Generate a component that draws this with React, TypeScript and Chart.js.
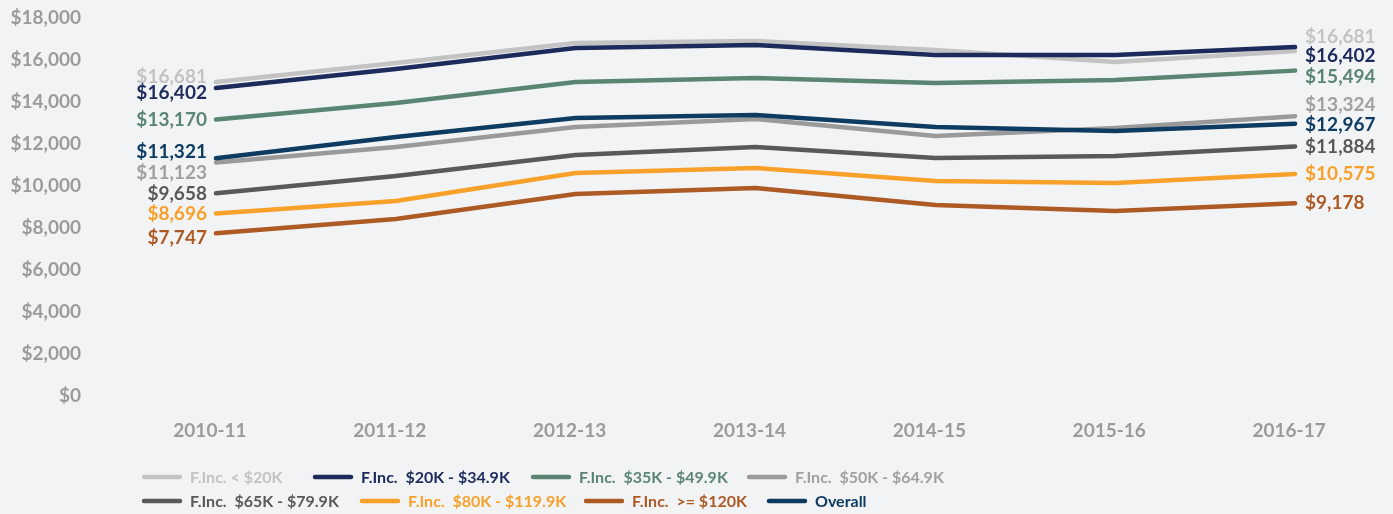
import React, { useEffect, useRef } from "react";
import { Chart, registerables } from "chart.js";

Chart.register(...registerables);

// ---------- data ----------
const categories = ["2010-11", "2011-12", "2012-13", "2013-14", "2014-15", "2015-16", "2016-17"];

const seriesNames = [
  "F.Inc. < $20K",
  "F.Inc.  $20K - $34.9K",
  "F.Inc.  $35K - $49.9K",
  "F.Inc.  $50K - $64.9K",
  "F.Inc.  $65K - $79.9K",
  "F.Inc.  $80K - $119.9K",
  "F.Inc.  >= $120K",
  "Overall",
];

const incUnder20K = [14950, 15860, 16810, 16900, 16480, 15900, 16430];
const inc20to35K = [14670, 15570, 16570, 16710, 16240, 16240, 16620];
const inc35to50K = [13170, 13950, 14950, 15140, 14900, 15050, 15494];
const inc50to65K = [11123, 11860, 12810, 13190, 12380, 12760, 13324];
const inc65to80K = [9658, 10480, 11480, 11860, 11330, 11430, 11884];
const inc80to120K = [8696, 9290, 10620, 10860, 10240, 10140, 10575];
const inc120KPlus = [7747, 8430, 9620, 9900, 9100, 8810, 9178];
const overall = [11321, 12330, 13240, 13380, 12810, 12620, 12967];

const startLabels = ["$16,681", "$16,402", "$13,170", "$11,123", "$9,658", "$8,696", "$7,747", "$11,321"];
const endLabels = ["$16,681", "$16,402", "$15,494", "$13,324", "$11,884", "$10,575", "$9,178", "$12,967"];

const yMin = 0;
const yMax = 18000;
const yStep = 2000;

// ---------- style ----------
const BG = "#f2f3f5";
const AXIS_COLOR = "#9b9b9b";
const FONT = "Lato, 'Open Sans', sans-serif";
const colors = ["#c3c3c3", "#1c2a5c", "#5b8573", "#9a9a9a", "#595959", "#f7a12b", "#ae5a25", "#0d3b61"];
const labelColors = ["#c3c3c3", "#1c2a5c", "#5b8573", "#a0a0a0", "#595959", "#f7a12b", "#ae5a25", "#0d3b61"];
const startDy = [-5, 5, 0, 10, 1, 0, 5, -6];
const endDy = [-14, 9, 6, -11, 0, 0, 0, 1];
const legendRows = [
  { y: 477, items: [0, 1, 2, 3], x: [142, 313, 531, 747] },
  { y: 501, items: [4, 5, 6, 7], x: [142, 360, 584, 767] },
];

const allSeries = [incUnder20K, inc20to35K, inc35to50K, inc50to65K, inc65to80K, inc80to120K, inc120KPlus, overall];

const endLabelsPlugin = {
  id: "endLabels",
  afterDatasetsDraw(chart: any) {
    const ctx = chart.ctx;
    ctx.save();
    ctx.font = `bold 19px ${FONT}`;
    ctx.textBaseline = "middle";
    chart.data.datasets.forEach((_ds: any, i: number) => {
      const meta = chart.getDatasetMeta(i);
      const first = meta.data[0];
      const last = meta.data[meta.data.length - 1];
      ctx.fillStyle = labelColors[i];
      ctx.textAlign = "right";
      ctx.fillText(startLabels[i], first.x - 9, first.y + startDy[i]);
      ctx.textAlign = "left";
      ctx.fillText(endLabels[i], last.x + 10, last.y + endDy[i]);
    });
    ctx.restore();
  },
};

const customLegendPlugin = {
  id: "customLegend",
  afterDraw(chart: any) {
    const ctx = chart.ctx;
    ctx.save();
    ctx.font = `bold 16px ${FONT}`;
    ctx.textBaseline = "middle";
    ctx.textAlign = "left";
    legendRows.forEach((row) => {
      row.items.forEach((idx, k) => {
        const x = row.x[k];
        ctx.strokeStyle = colors[idx];
        ctx.lineWidth = 4.5;
        ctx.lineCap = "round";
        ctx.beginPath();
        ctx.moveTo(x + 2, row.y);
        ctx.lineTo(x + 38, row.y);
        ctx.stroke();
        ctx.fillStyle = labelColors[idx];
        ctx.fillText(seriesNames[idx], x + 48, row.y + 1);
      });
    });
    ctx.restore();
  },
};

export default function App() {
  const ref = useRef<HTMLCanvasElement>(null);

  useEffect(() => {
    document.body.style.margin = "0";
    document.body.style.background = BG;
    const chart = new Chart(ref.current!, {
      type: "line",
      data: {
        labels: categories,
        datasets: allSeries.map((values, i) => ({
          label: seriesNames[i],
          data: values,
          borderColor: colors[i],
          backgroundColor: colors[i],
          borderWidth: 4.5,
          pointRadius: 0,
          pointHoverRadius: 0,
          tension: 0,
          fill: false,
          borderJoinStyle: "round" as const,
          borderCapStyle: "round" as const,
          order: allSeries.length - i,
        })),
      },
      options: {
        responsive: false,
        animation: false,
        layout: { padding: { top: 18, right: 8, bottom: 0, left: 0 } },
        plugins: {
          legend: { display: false },
          tooltip: { enabled: false },
        },
        scales: {
          x: {
            type: "category",
            offset: true,
            grid: { display: false, drawTicks: false },
            border: { display: false },
            ticks: {
              color: AXIS_COLOR,
              font: { family: FONT, size: 19, weight: "bold" },
              padding: 23,
              labelOffset: -6,
              maxRotation: 0,
            },
            afterFit: (s: any) => {
              s.height = 118;
              s.paddingTop = 0;
              s.paddingBottom = 0;
            },
          },
          y: {
            min: yMin,
            max: yMax,
            grid: { display: false, drawTicks: false },
            border: { display: false },
            ticks: {
              stepSize: yStep,
              color: AXIS_COLOR,
              font: { family: FONT, size: 19, weight: "bold" },
              padding: 45,
              callback: (v: any) => "$" + Number(v).toLocaleString("en-US"),
            },
            afterFit: (s: any) => {
              s.width = 126;
              s.paddingTop = 0;
              s.paddingBottom = 0;
            },
          },
        },
      },
      plugins: [endLabelsPlugin, customLegendPlugin],
    });
    return () => chart.destroy();
  }, []);

  return (
    <div style={{ width: 1393, height: 514, background: BG }}>
      <canvas ref={ref} width={1393} height={514} style={{ display: "block" }} />
    </div>
  );
}
